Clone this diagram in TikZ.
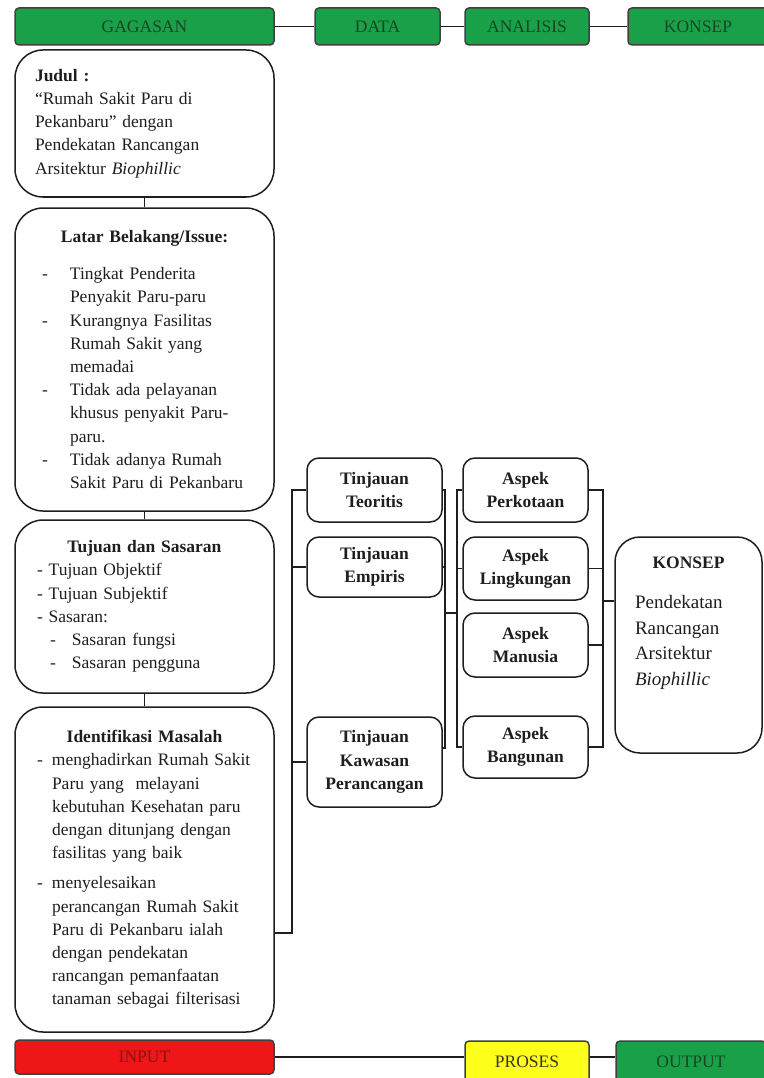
\documentclass[tikz,border=0pt]{standalone}
\usepackage{fontspec}
\setmainfont{Liberation Serif}
\usetikzlibrary{positioning, calc}
\definecolor{BarGreen}{RGB}{27,160,74}
\definecolor{BarGreenText}{RGB}{24,70,36}
\definecolor{BarRed}{RGB}{238,22,22}
\definecolor{BarRedText}{RGB}{140,18,18}
\definecolor{BarYellow}{RGB}{255,255,28}
\definecolor{BarYellowText}{RGB}{60,55,25}
\definecolor{InkGray}{RGB}{30,30,30}

\newcommand{\lbitem}{\hspace*{7pt}\makebox[28pt][l]{-}}
\newcommand{\lbcont}{\hspace*{35pt}}

\begin{document}
\begin{tikzpicture}[
    x=1pt, y=1pt,
    font=\fontsize{17.5}{23.2}\selectfont,
    bar/.style={draw=black!75, line width=1.5pt, rounded corners=4pt, fill=#1,
        inner sep=0pt, minimum height=37pt},
    panel/.style={draw=InkGray, line width=1.5pt, rounded corners=28pt, text=InkGray,
        text width=219pt, inner xsep=20pt, inner ysep=0pt, minimum width=259pt},
    card/.style={draw=InkGray, line width=1.5pt, rounded corners=12pt, text=InkGray,
        align=center, font=\fontsize{17.5}{23.2}\selectfont\bfseries, inner sep=0pt},
    link/.style={line width=1.5pt, InkGray},
]
\path[use as bounding box, fill=white] (0,0) rectangle (763,-1078);

% --- baris judul atas ---
\node[bar=BarGreen, text=BarGreenText, minimum width=259pt] (gagasan) at (144.5,-26.5) {GAGASAN};
\node[bar=BarGreen, text=BarGreenText, minimum width=125pt] (data) at (377.5,-26.5) {DATA};
\node[bar=BarGreen, text=BarGreenText, minimum width=124pt] (analisis) at (527,-26.5) {ANALISIS};
\node[bar=BarGreen, text=BarGreenText, minimum width=140pt] (konsephead) at (698,-26.5) {KONSEP};
\draw[link] (gagasan) -- (data);
\draw[link] (data) -- (analisis);
\draw[link] (analisis) -- (konsephead);

% ================= GAGASAN (kolom kiri) =================
\node[panel, minimum height=147pt] (judul) at (144.5,-123.5)
    {\textbf{Judul :}\\
     “Rumah Sakit Paru di\\
     Pekanbaru” dengan\\
     Pendekatan Rancangan\\
     Arsitektur \textit{Biophillic}};

\node[panel, minimum height=303pt] (latar) at (144.5,-359.5)
    {{\centering\bfseries Latar Belakang/Issue:\par}\vspace{14pt}
     \lbitem Tingkat Penderita\\
     \lbcont Penyakit Paru-paru\\
     \lbitem Kurangnya Fasilitas\\
     \lbcont Rumah Sakit yang\\
     \lbcont memadai\\
     \lbitem Tidak ada pelayanan\\
     \lbcont khusus penyakit Paru-\\
     \lbcont paru.\\
     \lbitem Tidak adanya Rumah\\
     \lbcont Sakit Paru di Pekanbaru};

\node[panel, minimum height=173pt] (tujuan) at (144.5,-606.5)
    {{\centering\bfseries Tujuan dan Sasaran\par}
     \hspace*{2pt}- Tujuan Objektif\\
     \hspace*{2pt}- Tujuan Subjektif\\
     \hspace*{2pt}- Sasaran:\\
     \hspace*{15pt}\makebox[22pt][l]{-}Sasaran fungsi\\
     \hspace*{15pt}\makebox[22pt][l]{-}Sasaran pengguna};

\node[panel, minimum height=325pt] (identifikasi) at (144.5,-869.5)
    {{\centering\bfseries Identifikasi Masalah\par}
     \hspace*{2pt}\makebox[15pt][l]{-}menghadirkan Rumah Sakit\\
     \hspace*{17pt}Paru yang\ \ melayani\\
     \hspace*{17pt}kebutuhan Kesehatan paru\\
     \hspace*{17pt}dengan ditunjang dengan\\
     \hspace*{17pt}fasilitas yang baik\\[7pt]
     \hspace*{2pt}\makebox[15pt][l]{-}menyelesaikan\\
     \hspace*{17pt}perancangan Rumah Sakit\\
     \hspace*{17pt}Paru di Pekanbaru ialah\\
     \hspace*{17pt}dengan pendekatan\\
     \hspace*{17pt}rancangan pemanfaatan\\
     \hspace*{17pt}tanaman sebagai filterisasi};

\draw[link] (judul) -- (latar);
\draw[link] (latar) -- (tujuan);
\draw[link] (tujuan) -- (identifikasi);

% ================= DATA (tinjauan) =================
\node[card, minimum width=135pt, minimum height=64pt] (teoritis) at (374.5,-490) {Tinjauan\\ Teoritis};
\node[card, minimum width=135pt, minimum height=60pt] (empiris) at (374.5,-567) {Tinjauan\\ Empiris};
\node[card, minimum width=135pt, minimum height=90pt] (kawasan) at (374.5,-762) {Tinjauan\\ Kawasan\\ Perancangan};

\coordinate (jointL) at (292,-933);
\draw[link] (identifikasi.east |- jointL) -- (jointL) |- (teoritis.west);
\draw[link] (jointL |- empiris.west) -- (empiris.west);
\draw[link] (jointL |- kawasan.west) -- (kawasan.west);

% ================= ANALISIS (aspek) =================
\node[card, minimum width=125pt, minimum height=64pt] (perkotaan) at (525.5,-490) {Aspek\\ Perkotaan};
\node[card, minimum width=125pt, minimum height=63pt] (lingkungan) at (525.5,-568.5) {Aspek\\ Lingkungan};
\node[card, minimum width=125pt, minimum height=64pt] (manusia) at (525.5,-645) {Aspek\\ Manusia};
\node[card, minimum width=125pt, minimum height=62pt] (bangunan) at (525.5,-747) {Aspek\\ Bangunan};

\coordinate (jointM) at (445,-613);
\coordinate (jointN) at (457,-613);
\draw[link] (teoritis.east) -| (jointM) |- ([yshift=14pt]kawasan.east);
\draw[link] (empiris.east) -- (empiris.east -| jointM);
\draw[link] (jointM) -- (jointN);
\draw[link] (perkotaan.west) -| (jointN) |- (bangunan.west);
\draw[link] (lingkungan.west) -- (lingkungan.west -| jointN);

% ================= KONSEP =================
\node[draw=InkGray, line width=1.5pt, rounded corners=25pt, text=InkGray, inner xsep=20pt, inner ysep=0pt]
    (konsep) at (688.5,-645)
    {\parbox[c][216pt][t]{107pt}{\vspace*{20pt}{\centering\bfseries KONSEP\par}\vspace{14.5pt}
     {\fontsize{19}{25.5}\selectfont Pendekatan\\ Rancangan\\ Arsitektur\\ \textit{Biophillic}\par}}};

\coordinate (jointR) at (603,-601);
\draw[link] (perkotaan.east) -| (jointR) |- (bangunan.east);
\draw[link] (lingkungan.east) -- (lingkungan.east -| jointR);
\draw[link] (manusia.east) -- (manusia.east -| jointR);
\draw[link] (jointR) -- (konsep.west |- jointR);

% --- baris bawah ---
\node[bar=BarRed, text=BarRedText, minimum width=259pt, minimum height=34pt] (input) at (144.5,-1057) {INPUT};
\node[bar=BarYellow, text=BarYellowText, minimum width=124pt, minimum height=42pt] (proses) at (527,-1062) {PROSES};
\node[bar=BarGreen, text=BarGreenText, minimum width=150pt, minimum height=42pt] (output) at (691,-1062) {OUTPUT};
\draw[link] (input.east) -- (input.east -| proses.west);
\draw[link] (proses.east |- input.east) -- (output.west |- input.east);

\end{tikzpicture}
\end{document}
